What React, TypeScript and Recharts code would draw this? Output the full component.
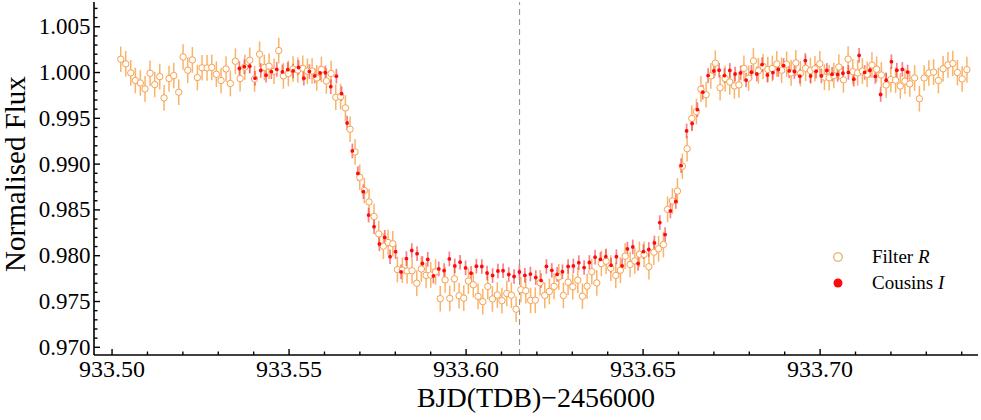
import React from "react";
import { ScatterChart, Scatter, XAxis, YAxis, ErrorBar, ReferenceLine, Legend } from "recharts";

// Filter R (open orange circles)
const R_TIME = [
  933.50246, 933.50387, 933.50528, 933.50658, 933.50799, 933.50932, 933.51073, 933.51206, 933.51347, 933.51469,
  933.51610, 933.51743, 933.51884, 933.52006, 933.52138, 933.52268, 933.52410, 933.52542, 933.52684, 933.52816,
  933.52946, 933.53079, 933.53220, 933.53342, 933.53483, 933.53616, 933.53751, 933.53890, 933.54025, 933.54167,
  933.54302, 933.54435, 933.54576, 933.54709, 933.54839, 933.54980, 933.55113, 933.55246, 933.55387, 933.55517,
  933.55650, 933.55783, 933.55913, 933.56054, 933.56187, 933.56319, 933.56455, 933.56591, 933.56723, 933.56865,
  933.56997, 933.57127, 933.57260, 933.57401, 933.57534, 933.57664, 933.57797, 933.57930, 933.58059, 933.58201,
  933.58334, 933.58475, 933.58608, 933.58737, 933.58870, 933.59003, 933.59139, 933.59271, 933.59407, 933.59540,
  933.59670, 933.59802, 933.59935, 933.60065, 933.60204, 933.60339, 933.60472, 933.60613, 933.60743, 933.60882,
  933.61012, 933.61150, 933.61280, 933.61413, 933.61548, 933.61687, 933.61822, 933.61955, 933.62091, 933.62223,
  933.62353, 933.62486, 933.62619, 933.62749, 933.62882, 933.63014, 933.63156, 933.63286, 933.63418, 933.63551,
  933.63692, 933.63822, 933.63955, 933.64088, 933.64229, 933.64359, 933.64492, 933.64633, 933.64766, 933.64896,
  933.65028, 933.65164, 933.65305, 933.65438, 933.65574, 933.65692, 933.65828, 933.65969, 933.66110, 933.66243,
  933.66376, 933.66506, 933.66633, 933.66780, 933.66913, 933.67040, 933.67175, 933.67317, 933.67449, 933.67579,
  933.67707, 933.67848, 933.67981, 933.68116, 933.68257, 933.68390, 933.68523, 933.68650, 933.68777, 933.68913,
  933.69054, 933.69181, 933.69314, 933.69444, 933.69591, 933.69726, 933.69853, 933.69992, 933.70122, 933.70255,
  933.70387, 933.70529, 933.70659, 933.70791, 933.70924, 933.71060, 933.71195, 933.71328, 933.71464, 933.71596,
  933.71729, 933.71865, 933.71998, 933.72133, 933.72266, 933.72396, 933.72534, 933.72670, 933.72805, 933.72938,
  933.73071, 933.73207, 933.73342, 933.73475, 933.73611, 933.73749, 933.73879, 933.74012, 933.74147,
];
const R_FLUX = [
  1.00145, 1.00094, 0.99996, 0.99913, 0.99886, 0.99821, 0.99992, 0.99869, 0.99956, 0.99723,
  0.99934, 0.99967, 0.99785, 1.00170, 1.00025, 1.00138, 0.99945, 1.00052, 1.00050, 1.00055,
  0.99981, 0.99913, 1.00039, 0.99880, 1.00123, 0.99934, 1.00058, 1.00134, 0.99930, 1.00200,
  1.00055, 1.00069, 1.00014, 1.00240, 0.99963, 0.99989, 1.00039, 1.00028, 1.00047, 1.00014,
  1.00017, 0.99941, 1.00033, 0.99908, 0.99989, 0.99730, 0.99736, 0.99614, 0.99381, 0.99133,
  0.98857, 0.98712, 0.98587, 0.98428, 0.98238, 0.98104, 0.98144, 0.98131, 0.97849, 0.97842,
  0.97834, 0.97836, 0.97700, 0.97855, 0.97785, 0.97789, 0.97823, 0.97531, 0.97736, 0.97534,
  0.97747, 0.97563, 0.97537, 0.97724, 0.97683, 0.97556, 0.97498, 0.97665, 0.97528, 0.97571,
  0.97509, 0.97587, 0.97569, 0.97416, 0.97629, 0.97618, 0.97512, 0.97514, 0.97705, 0.97567,
  0.97610, 0.97665, 0.97769, 0.97566, 0.97711, 0.97662, 0.97733, 0.97558, 0.97667, 0.97825,
  0.97703, 0.97915, 0.97940, 0.97864, 0.97784, 0.97842, 0.97995, 0.97904, 0.97943, 0.98016,
  0.98014, 0.97880, 0.98038, 0.98076, 0.98122, 0.98505, 0.98598, 0.98706, 0.98977, 0.99168,
  0.99499, 0.99574, 0.99818, 0.99758, 0.99963, 1.00102, 0.99834, 0.99934, 0.99897, 0.99854,
  0.99865, 1.00045, 0.99938, 1.00126, 1.00019, 1.00066, 1.00033, 1.00044, 1.00094, 1.00025,
  1.00091, 0.99996, 1.00105, 0.99989, 1.00047, 1.00022, 1.00041, 1.00096, 0.99949, 0.99943,
  0.99967, 1.00060, 0.99920, 1.00147, 1.00009, 0.99996, 1.00016, 0.99981, 1.00082, 1.00036,
  0.99973, 0.99864, 0.99924, 0.99916, 0.99853, 0.99905, 0.99876, 0.99941, 0.99714, 0.99940,
  0.99995, 1.00005, 0.99913, 1.00041, 1.00083, 1.00099, 1.00000, 0.99930, 1.00031,
];
const R_ERR = 0.0014;

// Cousins I (filled red points)
const I_TIME = [
  933.53596, 933.53737, 933.53890, 933.54040, 933.54201, 933.54350, 933.54500, 933.54653, 933.54811, 933.54963,
  933.55113, 933.55268, 933.55418, 933.55574, 933.55726, 933.55876, 933.56026, 933.56178, 933.56336, 933.56483,
  933.56639, 933.56788, 933.56944, 933.57099, 933.57246, 933.57401, 933.57551, 933.57704, 933.57853, 933.58009,
  933.58164, 933.58314, 933.58466, 933.58616, 933.58766, 933.58918, 933.59076, 933.59229, 933.59379, 933.59528,
  933.59681, 933.59831, 933.59986, 933.60141, 933.60291, 933.60444, 933.60593, 933.60749, 933.60899, 933.61045,
  933.61206, 933.61356, 933.61506, 933.61661, 933.61817, 933.61969, 933.62119, 933.62269, 933.62421, 933.62571,
  933.62721, 933.62882, 933.63031, 933.63184, 933.63334, 933.63483, 933.63644, 933.63794, 933.63947, 933.64096,
  933.64246, 933.64407, 933.64557, 933.64709, 933.64859, 933.65009, 933.65161, 933.65320, 933.65472, 933.65622,
  933.65772, 933.65924, 933.66074, 933.66229, 933.66385, 933.66534, 933.66687, 933.66837, 933.66998, 933.67147,
  933.67297, 933.67450, 933.67599, 933.67755, 933.67910, 933.68060, 933.68212, 933.68362, 933.68512, 933.68667,
  933.68820, 933.68969, 933.69125, 933.69274, 933.69427, 933.69582, 933.69732, 933.69887, 933.70037, 933.70190,
  933.70339, 933.70495, 933.70645, 933.70800, 933.70952, 933.71102, 933.71258, 933.71407, 933.71560, 933.71710,
  933.71865, 933.72015, 933.72167, 933.72323, 933.72472,
];
const I_FLUX = [
  1.00044, 1.00063, 1.00069, 0.99938, 1.00022, 0.99971, 1.00009, 1.00034, 1.00007, 1.00031,
  1.00017, 1.00055, 0.99938, 1.00011, 0.99963, 0.99995, 0.99998, 0.99845, 0.99960, 0.99769,
  0.99449, 0.99144, 0.98898, 0.98699, 0.98444, 0.98317, 0.98129, 0.98200, 0.97989, 0.98044,
  0.97823, 0.97969, 0.98057, 0.98022, 0.97915, 0.97960, 0.97779, 0.97856, 0.97838, 0.97965,
  0.97889, 0.97929, 0.97867, 0.97809, 0.97885, 0.97882, 0.97811, 0.97784, 0.97833, 0.97836,
  0.97795, 0.97773, 0.97822, 0.97785, 0.97800, 0.97762, 0.97729, 0.97883, 0.97840, 0.97796,
  0.97825, 0.97882, 0.97889, 0.97924, 0.97871, 0.97926, 0.97984, 0.97960, 0.97991, 0.97896,
  0.97989, 0.97889, 0.98074, 0.98096, 0.97915, 0.98044, 0.98068, 0.98140, 0.98362, 0.98231,
  0.98489, 0.98593, 0.98983, 0.99362, 0.99444, 0.99594, 0.99785, 0.99967, 1.00017, 1.00025,
  0.99967, 1.00023, 0.99984, 0.99996, 0.99918, 1.00003, 0.99984, 1.00087, 0.99973, 1.00000,
  1.00033, 1.00076, 1.00017, 1.00011, 0.99960, 1.00131, 0.99962, 1.00014, 0.99963, 1.00023,
  0.99981, 0.99979, 0.99992, 1.00001, 0.99927, 1.00187, 1.00001, 1.00025, 0.99957, 0.99760,
  0.99916, 1.00118, 1.00025, 1.00034, 1.00005,
];
const I_ERR = 0.0008;

const TRANSIT_MID = 933.6151;

const X_DOMAIN = [933.4949, 933.7446];
const Y_DOMAIN = [0.96916, 1.0077];

const X_MAJOR = [933.5, 933.55, 933.6, 933.65, 933.7];
const X_TICKS = [
  933.5, 933.51, 933.52, 933.53, 933.54, 933.55, 933.56, 933.57, 933.58, 933.59,
  933.6, 933.61, 933.62, 933.63, 933.64, 933.65, 933.66, 933.67, 933.68, 933.69,
  933.7, 933.71, 933.72, 933.73, 933.74,
];
const Y_MAJOR = [0.97, 0.975, 0.98, 0.985, 0.99, 0.995, 1.0, 1.005];
const Y_TICKS = [
  0.97, 0.971, 0.972, 0.973, 0.974, 0.975, 0.976, 0.977, 0.978, 0.979,
  0.98, 0.981, 0.982, 0.983, 0.984, 0.985, 0.986, 0.987, 0.988, 0.989,
  0.99, 0.991, 0.992, 0.993, 0.994, 0.995, 0.996, 0.997, 0.998, 0.999,
  1.0, 1.001, 1.002, 1.003, 1.004, 1.005, 1.006, 1.007,
];

const X_TITLE = "BJD(TDB)\u22122456000";
const Y_TITLE = "Normalised Flux";
const SERIES_R = "Filter ";
const SERIES_R_ITALIC = "R";
const SERIES_I = "Cousins ";
const SERIES_I_ITALIC = "I";

const SERIF = "'Liberation Serif', 'Times New Roman', serif";
const R_COLOR = "#f8a04c";
const R_BAR = "#f99a34";
const I_COLOR = "#ff0a0a";
const I_BAR = "#ef2f3c";

const rData = R_TIME.map((t, i) => ({ t, f: R_FLUX[i], e: R_ERR }));
const iData = I_TIME.map((t, i) => ({ t, f: I_FLUX[i], e: I_ERR }));

const isMajor = (v: number, list: number[]) => list.some((m) => Math.abs(m - v) < 1e-9);

const MAJ = 6;
const MIN = 3.5;
const TW = 1.4;

const BottomTick = (props: any) => {
  const { x, y, payload } = props;
  const v = payload.value;
  const major = isMajor(v, X_MAJOR);
  return (
    <g>
      <line x1={x} x2={x} y1={y} y2={y - (major ? MAJ : MIN)} stroke="#000" strokeWidth={TW} />
      {major ? (
        <text x={x} y={y + 22} textAnchor="middle" fontSize={24} fontFamily={SERIF} fill="#000">
          {v.toFixed(2)}
        </text>
      ) : null}
    </g>
  );
};

const TopTick = (props: any) => {
  const { x, y, payload } = props;
  const major = isMajor(payload.value, X_MAJOR);
  return <line x1={x} x2={x} y1={y} y2={y + (major ? MAJ : MIN)} stroke="#000" strokeWidth={TW} />;
};

const LeftTick = (props: any) => {
  const { x, y, payload } = props;
  const v = payload.value;
  const major = isMajor(v, Y_MAJOR);
  return (
    <g>
      <line x1={x} x2={x + (major ? MAJ : MIN)} y1={y} y2={y} stroke="#000" strokeWidth={TW} />
      {major ? (
        <text x={x - 3.5} y={y + 7.5} textAnchor="end" fontSize={23} fontFamily={SERIF} fill="#000">
          {v.toFixed(3)}
        </text>
      ) : null}
    </g>
  );
};

const RightTick = (props: any) => {
  const { x, y, payload } = props;
  const major = isMajor(payload.value, Y_MAJOR);
  return <line x1={x} x2={x - (major ? MAJ : MIN)} y1={y} y2={y} stroke="#000" strokeWidth={TW} />;
};

const XTitle = (props: any) => {
  const vb = props.viewBox || { x: 94, y: 355, width: 884 };
  return (
    <text x={vb.x + vb.width / 2} y={vb.y + 52} textAnchor="middle" fontSize={28} fontFamily={SERIF} fill="#000">
      {X_TITLE}
    </text>
  );
};

const YTitle = () => {
  const cx = 25;
  const cy = 174;
  return (
    <text
      x={cx}
      y={cy}
      textAnchor="middle"
      fontSize={29}
      fontFamily={SERIF}
      fill="#000"
      transform={`rotate(-90, ${cx}, ${cy})`}
    >
      {Y_TITLE}
    </text>
  );
};

const ROpen = (props: any) => {
  const { cx, cy } = props;
  if (cx == null || cy == null) return null;
  return <circle cx={cx} cy={cy} r={3.2} fill="#fff" stroke={R_COLOR} strokeWidth={1} />;
};

const IDot = (props: any) => {
  const { cx, cy } = props;
  if (cx == null || cy == null) return null;
  return <circle cx={cx} cy={cy} r={1.9} fill={I_COLOR} />;
};

const LegendBox = () => (
  <svg width={150} height={56} style={{ display: "block", overflow: "visible" }}>
    <circle cx={13} cy={14} r={4.3} fill="none" stroke="#d9a843" strokeWidth={1.1} />
    <text x={47} y={20} fontSize={19} fontFamily={SERIF} fill="#000">
      {SERIES_R}
      <tspan fontStyle="italic">{SERIES_R_ITALIC}</tspan>
    </text>
    <circle cx={13} cy={40} r={4.5} fill={I_COLOR} />
    <text x={47} y={46} fontSize={19} fontFamily={SERIF} fill="#000">
      {SERIES_I}
      <tspan fontStyle="italic">{SERIES_I_ITALIC}</tspan>
    </text>
  </svg>
);

export default function App() {
  return (
    <div style={{ position: "absolute", left: 0, top: 0, width: 981, height: 420, background: "#fff" }}>
      <ScatterChart width={981} height={420} margin={{ top: 2, right: 3, bottom: 0, left: 0 }}>
        <XAxis
          xAxisId="b"
          dataKey="t"
          type="number"
          orientation="bottom"
          domain={X_DOMAIN}
          allowDataOverflow
          ticks={X_TICKS}
          interval={0}
          height={65}
          tickSize={0}
          tickMargin={0}
          tickLine={false}
          tick={<BottomTick />}
          axisLine={{ stroke: "#000", strokeWidth: 1.6 }}
          label={<XTitle />}
        />
        <XAxis
          xAxisId="t"
          dataKey="t"
          type="number"
          orientation="top"
          domain={X_DOMAIN}
          allowDataOverflow
          ticks={X_TICKS}
          interval={0}
          height={0}
          tickSize={0}
          tickMargin={0}
          tickLine={false}
          tick={<TopTick />}
          axisLine={{ stroke: "#000", strokeWidth: 1.6 }}
        />
        <YAxis
          yAxisId="l"
          dataKey="f"
          type="number"
          orientation="left"
          domain={Y_DOMAIN}
          allowDataOverflow
          ticks={Y_TICKS}
          interval={0}
          width={94}
          tickSize={0}
          tickMargin={0}
          tickLine={false}
          tick={<LeftTick />}
          axisLine={{ stroke: "#000", strokeWidth: 1.6 }}
          label={<YTitle />}
        />
        <YAxis
          yAxisId="r"
          dataKey="f"
          type="number"
          orientation="right"
          domain={Y_DOMAIN}
          allowDataOverflow
          ticks={Y_TICKS}
          interval={0}
          width={0}
          tickSize={0}
          tickMargin={0}
          tickLine={false}
          tick={<RightTick />}
          axisLine={{ stroke: "#000", strokeWidth: 1.6 }}
        />
        <ReferenceLine
          x={TRANSIT_MID}
          xAxisId="b"
          yAxisId="l"
          stroke="#9c958e"
          strokeWidth={1.1}
          strokeDasharray="6 4"
        />
        <Scatter
          name="Filter R"
          data={rData}
          dataKey="f"
          xAxisId="b"
          yAxisId="l"
          shape={<ROpen />}
          isAnimationActive={false}
        >
          <ErrorBar
            dataKey="e"
            direction="y"
            width={0}
            stroke={R_BAR}
            strokeWidth={1.5}
            strokeOpacity={0.75}
            isAnimationActive={false}
          />
        </Scatter>
        <Scatter
          name="Cousins I"
          data={iData}
          dataKey="f"
          xAxisId="b"
          yAxisId="l"
          shape={<IDot />}
          isAnimationActive={false}
        >
          <ErrorBar
            dataKey="e"
            direction="y"
            width={0}
            stroke={I_BAR}
            strokeWidth={1.7}
            strokeOpacity={0.6}
            isAnimationActive={false}
          />
        </Scatter>
        <Legend
          layout="vertical"
          align="center"
          verticalAlign="middle"
          wrapperStyle={{ left: 825, top: 243, width: 150, height: 56 }}
          content={() => <LegendBox />}
        />
      </ScatterChart>
    </div>
  );
}
